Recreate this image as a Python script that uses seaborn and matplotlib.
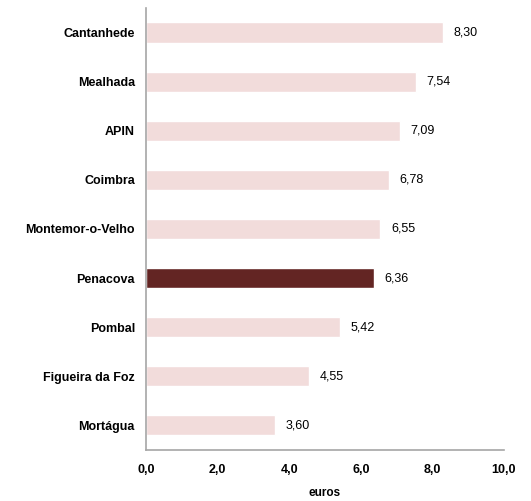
import matplotlib
matplotlib.use("Agg")
import matplotlib.pyplot as plt
import pandas as pd
import seaborn as sns

# ── Data ────────────────────────────────────────────────────────────────────
municipios = ["Cantanhede", "Mealhada", "APIN", "Coimbra", "Montemor-o-Velho",
              "Penacova", "Pombal", "Figueira da Foz", "Mortágua"]
valores = [8.30, 7.54, 7.09, 6.78, 6.55, 6.36, 5.42, 4.55, 3.60]
destaque = "Penacova"
x_ticks = [0, 2, 4, 6, 8, 10]

LIGHT = "#f2dcdb"
DARK = "#632523"
GREY = "#a6a6a6"

sns.set_style("white")
plt.rcParams["font.family"] = ["Liberation Sans", "DejaVu Sans"]
plt.rcParams["text.color"] = "black"
plt.rcParams["xtick.color"] = "black"
plt.rcParams["ytick.color"] = "black"
plt.rcParams["axes.labelcolor"] = "black"

df = pd.DataFrame({"municipio": municipios, "valor": valores})
palette = {m: (DARK if m == destaque else LIGHT) for m in municipios}

fig = plt.figure(figsize=(5.31, 5.01), dpi=100)
ax = fig.add_axes([0.275, 0.102, 0.674, 0.882])

sns.barplot(data=df, x="valor", y="municipio", hue="municipio", palette=palette,
            order=municipios, width=0.41, legend=False, ax=ax, saturation=1)

for i, v in enumerate(valores):
    ax.text(v + 0.3, i, f"{v:.2f}".replace(".", ","), va="center", ha="left",
            fontsize=9, color="black")

ax.set_xlim(0, 10)
ax.set_ylim(8.5, -0.5)
ax.set_xticks(x_ticks)
ax.set_xticklabels([f"{t:.1f}".replace(".", ",") for t in x_ticks],
                   fontsize=9, fontweight="bold")
ax.set_yticks(range(len(municipios)))
ax.set_yticklabels(municipios, fontsize=9, fontweight="bold")
ax.tick_params(axis="both", length=0)
ax.tick_params(axis="x", pad=10)
ax.tick_params(axis="y", pad=8)
ax.set_xlabel("euros", fontsize=8.5, fontweight="bold", labelpad=8)
ax.set_ylabel("")

for side in ["top", "right"]:
    ax.spines[side].set_visible(False)
for side in ["left", "bottom"]:
    ax.spines[side].set_color(GREY)
    ax.spines[side].set_linewidth(1.2)

fig.savefig("out.png", dpi=100)
